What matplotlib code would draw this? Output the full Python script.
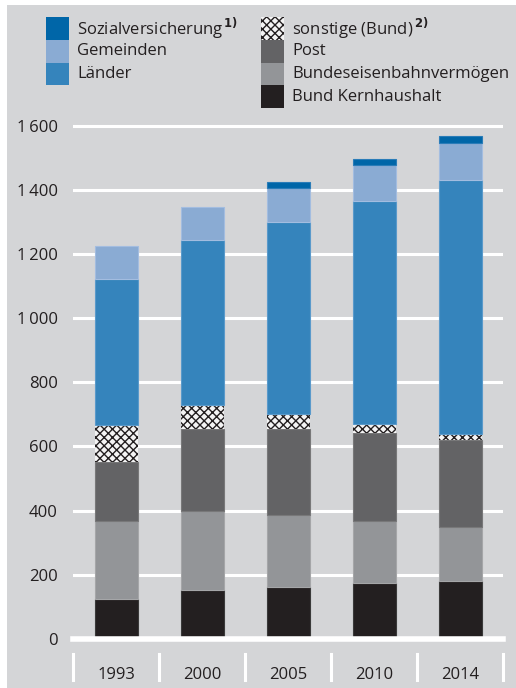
import matplotlib
matplotlib.use("Agg")
import matplotlib.pyplot as plt
from matplotlib.patches import Rectangle
import numpy as np

plt.rcParams['font.family'] = ['Open Sans', 'DejaVu Sans']
plt.rcParams['hatch.linewidth'] = 1.0

years = ["1993", "2000", "2005", "2010", "2014"]
series_names = ["Bund Kernhaushalt", "Bundeseisenbahnvermögen", "Post", "sonstige (Bund)",
                "Länder", "Gemeinden", "Sozialversicherung"]
bund = [123, 153, 161, 174, 179]
bev = [245, 245, 225, 193, 169]
post = [183, 257, 269, 274, 272]
sonstige = [116, 74, 46, 29, 20]
laender = [455, 514, 599, 696, 792]
gemeinden = [103, 104, 108, 112, 116]
sozial = [0, 0, 18, 19, 21]
yticks = [0, 200, 400, 600, 800, 1000, 1200, 1400, 1600]
ytick_labels = ["0", "200", "400", "600", "800", "1\u2009000", "1\u2009200", "1\u2009400", "1\u2009600"]

colors = {
    "Bund Kernhaushalt": "#231f20",
    "Bundeseisenbahnvermögen": "#939598",
    "Post": "#636365",
    "sonstige (Bund)": "#f4f4f4",
    "Länder": "#3584bc",
    "Gemeinden": "#8aabd3",
    "Sozialversicherung": "#0066a8",
}
edge = {
    "Bund Kernhaushalt": "#3a3a3a",
    "Bundeseisenbahnvermögen": "#a5a6a8",
    "Post": "#787879",
    "sonstige (Bund)": "#231f20",
    "Länder": "#5a9acb",
    "Gemeinden": "#a3bde0",
    "Sozialversicherung": "#2a7cb8",
}
bg = "#d4d5d7"

W, H = 516, 688
fig = plt.figure(figsize=(W / 100, H / 100), dpi=100)
fig.patch.set_facecolor("white")
fig.patches.append(Rectangle((7 / W, 0), 1 - 7 / W, 1 - 5 / H, transform=fig.transFigure,
                             facecolor=bg, edgecolor="none", zorder=-10))

# axes: x 73..503, y 0 at 638.7, 1600 at 126
y0, y1600 = 638.7, 126.0
unit = (y0 - y1600) / 1600
ax_bottom_px = y0
ax_top_px = 120.0
ymax = (y0 - ax_top_px) / unit
ax = fig.add_axes([73 / W, 1 - ax_bottom_px / H, 430 / W, (ax_bottom_px - ax_top_px) / H])
ax.set_facecolor("none")
ax.set_xlim(-0.5, 4.5)
ax.set_ylim(0, ymax)
for s in ax.spines.values():
    s.set_visible(False)

for t in yticks[1:]:
    ax.axhline(t, color="white", lw=2.2, zorder=0)
ax.axhline(0, color="white", lw=4.0, zorder=3, clip_on=False)

x = np.arange(len(years))
data = [bund, bev, post, sonstige, laender, gemeinden, sozial]
bottom = np.zeros(len(years))
for name, vals in zip(series_names, data):
    vals = np.array(vals, dtype=float)
    if name == "sonstige (Bund)":
        ax.bar(x, vals, 0.5, bottom=bottom, color=colors[name], edgecolor=edge[name],
               hatch="xxxx", lw=0, zorder=2)
    else:
        mask = vals > 0
        ax.bar(x[mask], vals[mask], 0.5, bottom=bottom[mask], color=colors[name],
               edgecolor=edge[name], lw=0.8, zorder=2)
    bottom += vals

ax.set_yticks(yticks)
ax.set_yticklabels(ytick_labels, fontsize=12, color="#231f20")
ax.tick_params(axis="y", length=0, pad=11)
ax.set_xticks([])

# category separators and labels below axis
for i in range(len(years) + 1):
    xp = (73 + 86 * i) / W
    fig.add_artist(plt.Line2D([xp, xp], [1 - 680 / H, 1 - 654 / H], color="white", lw=2.2,
                              transform=fig.transFigure))
for i, yr in enumerate(years):
    fig.text((116 + 86 * i) / W, 1 - 675 / H, yr, ha="center", va="center", fontsize=12,
             color="#231f20")

# legend
left_items = ["Sozialversicherung", "Gemeinden", "Länder"]
left_labels = ["Sozialversicherung$^{\\,\\mathbf{1)}}$", "Gemeinden", "Länder"]
right_items = ["sonstige (Bund)", "Post", "Bundeseisenbahnvermögen", "Bund Kernhaushalt"]
right_labels = ["sonstige (Bund)$^{\\,\\mathbf{2)}}$", "Post", "Bundeseisenbahnvermögen", "Bund Kernhaushalt"]
row_h = 22.8
top = 17
for col, (items, labels, xs) in enumerate([(left_items, left_labels, 46), (right_items, right_labels, 261)]):
    for j, (it, lab) in enumerate(zip(items, labels)):
        ytop = top + j * row_h
        kw = dict(facecolor=colors[it], edgecolor="none")
        if it == "sonstige (Bund)":
            kw = dict(facecolor=colors[it], edgecolor="#231f20", hatch="xxxx", lw=0)
        fig.patches.append(Rectangle((xs / W, 1 - (ytop + row_h) / H), 23 / W, row_h / H,
                                     transform=fig.transFigure, **kw))
        fig.text((xs + 31) / W, 1 - (ytop + row_h / 2) / H, lab, ha="left", va="center",
                 fontsize=12, color="#231f20")

fig.savefig("out.png", dpi=100, facecolor=fig.get_facecolor())
